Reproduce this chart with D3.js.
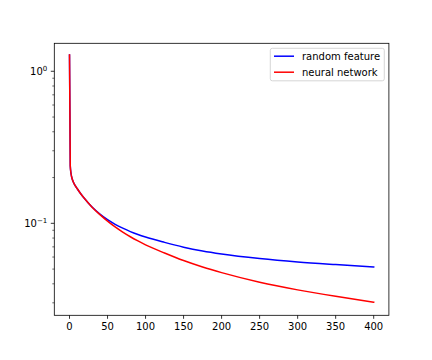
<!DOCTYPE html>
<html><head><meta charset="utf-8">
<script src="https://cdn.jsdelivr.net/npm/d3@7"></script>
<style>body{margin:0;background:#fff}svg{display:block}text{font-family:"DejaVu Sans",sans-serif}</style>
</head><body>
<script>
const xs = [0,1,2,3,5,10,15,20,25,30,40,50,60,70,80,90,100,125,150,175,200,250,300,350,400];
const randomFeature = [1.28,0.238,0.2127,0.2001,0.1869,0.1694,0.1559,0.1449,0.1354,0.1274,0.1149,0.1056,0.0985,0.0929,0.0882,0.0844,0.0812,0.0749,0.0697,0.0658,0.0629,0.0587,0.0557,0.0535,0.0516];
const neuralNetwork = [1.28,0.238,0.2127,0.2001,0.1869,0.1694,0.1559,0.1449,0.1354,0.127,0.1141,0.1034,0.0947,0.0875,0.0816,0.0766,0.0722,0.0638,0.0569,0.0516,0.0474,0.041,0.0365,0.0331,0.0303];
const xTicks = [0,50,100,150,200,250,300,350,400];
const yMajor = [{v:1,e:"0"},{v:0.1,e:"\u22121"}];
const seriesNames = ["random feature","neural network"];
const seriesColors = ["blue","red"];

const W=432,H=360, L=54.3, R=388.9, T=43.3, B=315.3;
const svg=d3.select("body").append("svg").attr("width",W).attr("height",H);
const x=d3.scaleLinear().domain([-20,420]).range([L,R]);
const y=d3.scaleLog().domain([Math.pow(10,-1.605),Math.pow(10,0.184)]).range([B,T]);

const g=svg.append("g");
[randomFeature,neuralNetwork].forEach((vals,i)=>{
  const line=d3.line().x((d,j)=>x(xs[j])).y(d=>y(d)).curve(d3.curveMonotoneX);
  g.append("path").attr("d",line(vals)).attr("fill","none")
   .attr("stroke",seriesColors[i]).attr("stroke-width",1.5).attr("stroke-linejoin","round").attr("stroke-linecap","square");
});
xTicks.forEach(t=>{
  g.append("line").attr("x1",x(t)).attr("x2",x(t)).attr("y1",B).attr("y2",B+3.5).attr("stroke","#000").attr("stroke-width",0.8);
  g.append("text").attr("x",x(t)).attr("y",B+14.5).attr("text-anchor","middle").attr("font-size",10).attr("fill","#000").text(t);
});
const minors=[];
[0.01,0.1,1].forEach(b=>{for(let k=2;k<=9;k++){const v=b*k;if(v>=y.domain()[0]&&v<=y.domain()[1])minors.push(v);}});
minors.forEach(v=>{
  g.append("line").attr("x1",L-2).attr("x2",L).attr("y1",y(v)).attr("y2",y(v)).attr("stroke","#000").attr("stroke-width",0.6);
});
yMajor.forEach(m=>{
  g.append("line").attr("x1",L-3.5).attr("x2",L).attr("y1",y(m.v)).attr("y2",y(m.v)).attr("stroke","#000").attr("stroke-width",0.8);
  const t=g.append("text").attr("x",L-7).attr("y",y(m.v)+3.8).attr("text-anchor","end").attr("font-size",10).attr("fill","#000");
  t.append("tspan").text("10");
  t.append("tspan").attr("font-size",7).attr("dy",-4.2).text(m.e);
});
g.append("rect").attr("x",L).attr("y",T).attr("width",R-L).attr("height",B-T).attr("fill","none").attr("stroke","#000").attr("stroke-width",0.8);
const lg=svg.append("g");
lg.append("rect").attr("x",270.3).attr("y",48.3).attr("width",114).attr("height",32.5).attr("rx",2).attr("fill","#fff").attr("fill-opacity",0.8).attr("stroke","#ccc").attr("stroke-width",0.8);
seriesNames.forEach((n,i)=>{
  const yy=56.2+i*16;
  lg.append("line").attr("x1",274).attr("x2",294).attr("y1",yy).attr("y2",yy).attr("stroke",seriesColors[i]).attr("stroke-width",1.5);
  lg.append("text").attr("x",302).attr("y",yy+3.6).attr("font-size",10).attr("fill","#000").text(n);
});
</script>
</body></html>
